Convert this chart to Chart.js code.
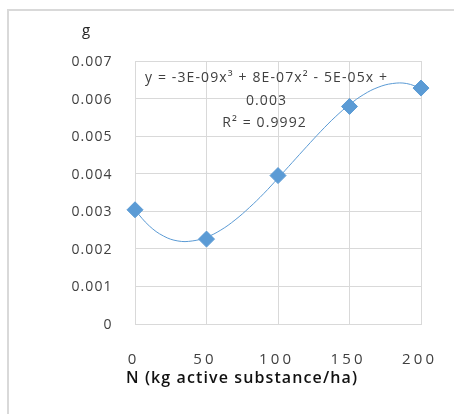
<!DOCTYPE html>
<html>
<head>
<meta charset="utf-8">
<script src="https://cdn.jsdelivr.net/npm/chart.js@4/dist/chart.umd.min.js"></script>
<style>
  html, body { margin: 0; padding: 0; background: #ffffff; }
  #wrap { width: 457px; height: 414px; position: relative; }
</style>
</head>
<body>
<div id="wrap"><canvas id="c" width="457" height="414"></canvas></div>
<script>
// ---- data ----
const nRates = [0, 50, 100, 150, 200];                       // N (kg active substance/ha)
const weightG = [0.00304, 0.00226, 0.00395, 0.00579, 0.00628]; // g
const trendX = [0, 10, 20, 30, 40, 50, 60, 70, 80, 90, 100, 110, 120, 130, 140, 150, 160, 170, 180, 190, 200];
const trendY = [0.00303, 0.00261, 0.00234, 0.00221, 0.00221, 0.00231, 0.00250, 0.00277, 0.00310, 0.00347,
                0.00388, 0.00430, 0.00472, 0.00513, 0.00551, 0.00584, 0.00611, 0.00630, 0.00640, 0.00640, 0.00627];
const xTickLabels = ['0', '50', '100', '150', '200'];
const yTickLabels = ['0', '0.001', '0.002', '0.003', '0.004', '0.005', '0.006', '0.007'];
const yTickValues = [0, 0.001, 0.002, 0.003, 0.004, 0.005, 0.006, 0.007];
const yAxisTitle = 'g';
const xAxisTitle = 'N (kg active substance/ha)';
const equationLines = ['y = -3E-09x³ + 8E-07x² - 5E-05x +', '0.003', 'R² = 0.9992'];

const BLUE = '#5b9bd5';
const GRID = '#d9d9d9';
const FONT = '"Open Sans"';

function spacedWidth(ctx, text, sp) {
  ctx.letterSpacing = '0px';
  return ctx.measureText(text).width + sp * (text.length - 1);
}
function drawSpaced(ctx, text, x, y, align, sp) {
  const w = spacedWidth(ctx, text, sp);
  let sx = x;
  if (align === 'center') sx = x - w / 2;
  else if (align === 'right') sx = x - w;
  ctx.letterSpacing = sp + 'px';
  ctx.textAlign = 'left';
  ctx.fillText(text, sx, y);
  ctx.letterSpacing = '0px';
}
function spacingFor(ctx, text, target) {
  ctx.letterSpacing = '0px';
  const w = ctx.measureText(text).width;
  return (target - w) / (text.length - 1);
}

const decor = {
  id: 'decor',
  beforeDraw(chart) {
    const ctx = chart.ctx;
    ctx.save();
    ctx.fillStyle = '#ffffff';
    ctx.fillRect(0, 0, chart.width, chart.height);
    ctx.strokeStyle = GRID;
    ctx.lineWidth = 2;
    ctx.beginPath();
    ctx.moveTo(8, 414);
    ctx.lineTo(8, 10);
    ctx.lineTo(454, 10);
    ctx.stroke();
    ctx.restore();
  },
  afterDraw(chart) {
    const ctx = chart.ctx;
    const xs = chart.scales.x, ys = chart.scales.y;
    ctx.save();
    ctx.textBaseline = 'alphabetic';
    // y tick labels
    ctx.font = '14px ' + FONT;
    ctx.fillStyle = '#404040';
    const spY = spacingFor(ctx, '0.007', 40);
    yTickValues.forEach((v, i) => {
      drawSpaced(ctx, yTickLabels[i], 111.5, ys.getPixelForValue(v) + 5, 'right', spY);
    });
    // x tick labels
    ctx.font = '15px ' + FONT;
    const spX = spacingFor(ctx, '200', 32);
    nRates.forEach((v, i) => {
      drawSpaced(ctx, xTickLabels[i], xs.getPixelForValue(v) - 3, 364, 'center', spX);
    });
    // axis titles
    ctx.fillStyle = '#111111';
    ctx.font = '600 16px ' + FONT;
    const spT = spacingFor(ctx, xAxisTitle, 231);
    drawSpaced(ctx, xAxisTitle, 241.5, 383, 'center', spT);
    ctx.font = '15px ' + FONT;
    ctx.fillStyle = '#262626';
    drawSpaced(ctx, yAxisTitle, 86, 35, 'center', 0);
    // trendline equation
    ctx.fillStyle = '#404040';
    ctx.font = '14px ' + FONT;
    const spE = spacingFor(ctx, equationLines[0], 242);
    drawSpaced(ctx, equationLines[0], 266, 82, 'center', spE);
    drawSpaced(ctx, equationLines[1], 266, 105, 'center', spE);
    drawSpaced(ctx, equationLines[2], 264, 127, 'center', spE);
    ctx.restore();
  }
};

new Chart(document.getElementById('c'), {
  type: 'scatter',
  data: {
    datasets: [
      {
        label: 'Poly. trend',
        type: 'line',
        data: trendX.map((x, i) => ({ x: x, y: trendY[i] })),
        borderColor: BLUE,
        borderWidth: 1,
        pointRadius: 0,
        fill: false,
        tension: 0.4,
        clip: false,
        order: 2
      },
      {
        label: 'g',
        data: nRates.map((x, i) => ({ x: x, y: weightG[i] })),
        pointStyle: 'rectRot',
        pointRadius: 8,
        pointHoverRadius: 8,
        backgroundColor: BLUE,
        borderColor: BLUE,
        borderWidth: 1,
        showLine: false,
        clip: false,
        order: 1
      }
    ]
  },
  options: {
    responsive: false,
    animation: false,
    events: [],
    layout: { padding: { left: 0, top: 61, right: 36, bottom: 0 } },
    plugins: { legend: { display: false }, tooltip: { enabled: false }, title: { display: false } },
    scales: {
      x: {
        type: 'linear',
        min: 0, max: 200,
        ticks: { stepSize: 50, display: false },
        grid: { color: GRID, lineWidth: 1, drawTicks: false },
        border: { color: GRID, width: 1 },
        afterFit(scale) { scale.height = 90; }
      },
      y: {
        type: 'linear',
        min: 0, max: 0.007,
        ticks: { stepSize: 0.001, display: false },
        grid: { color: GRID, lineWidth: 1, drawTicks: false },
        border: { color: GRID, width: 1 },
        afterFit(scale) { scale.height; scale.width = 135; }
      }
    }
  },
  plugins: [decor]
});
</script>
</body>
</html>
